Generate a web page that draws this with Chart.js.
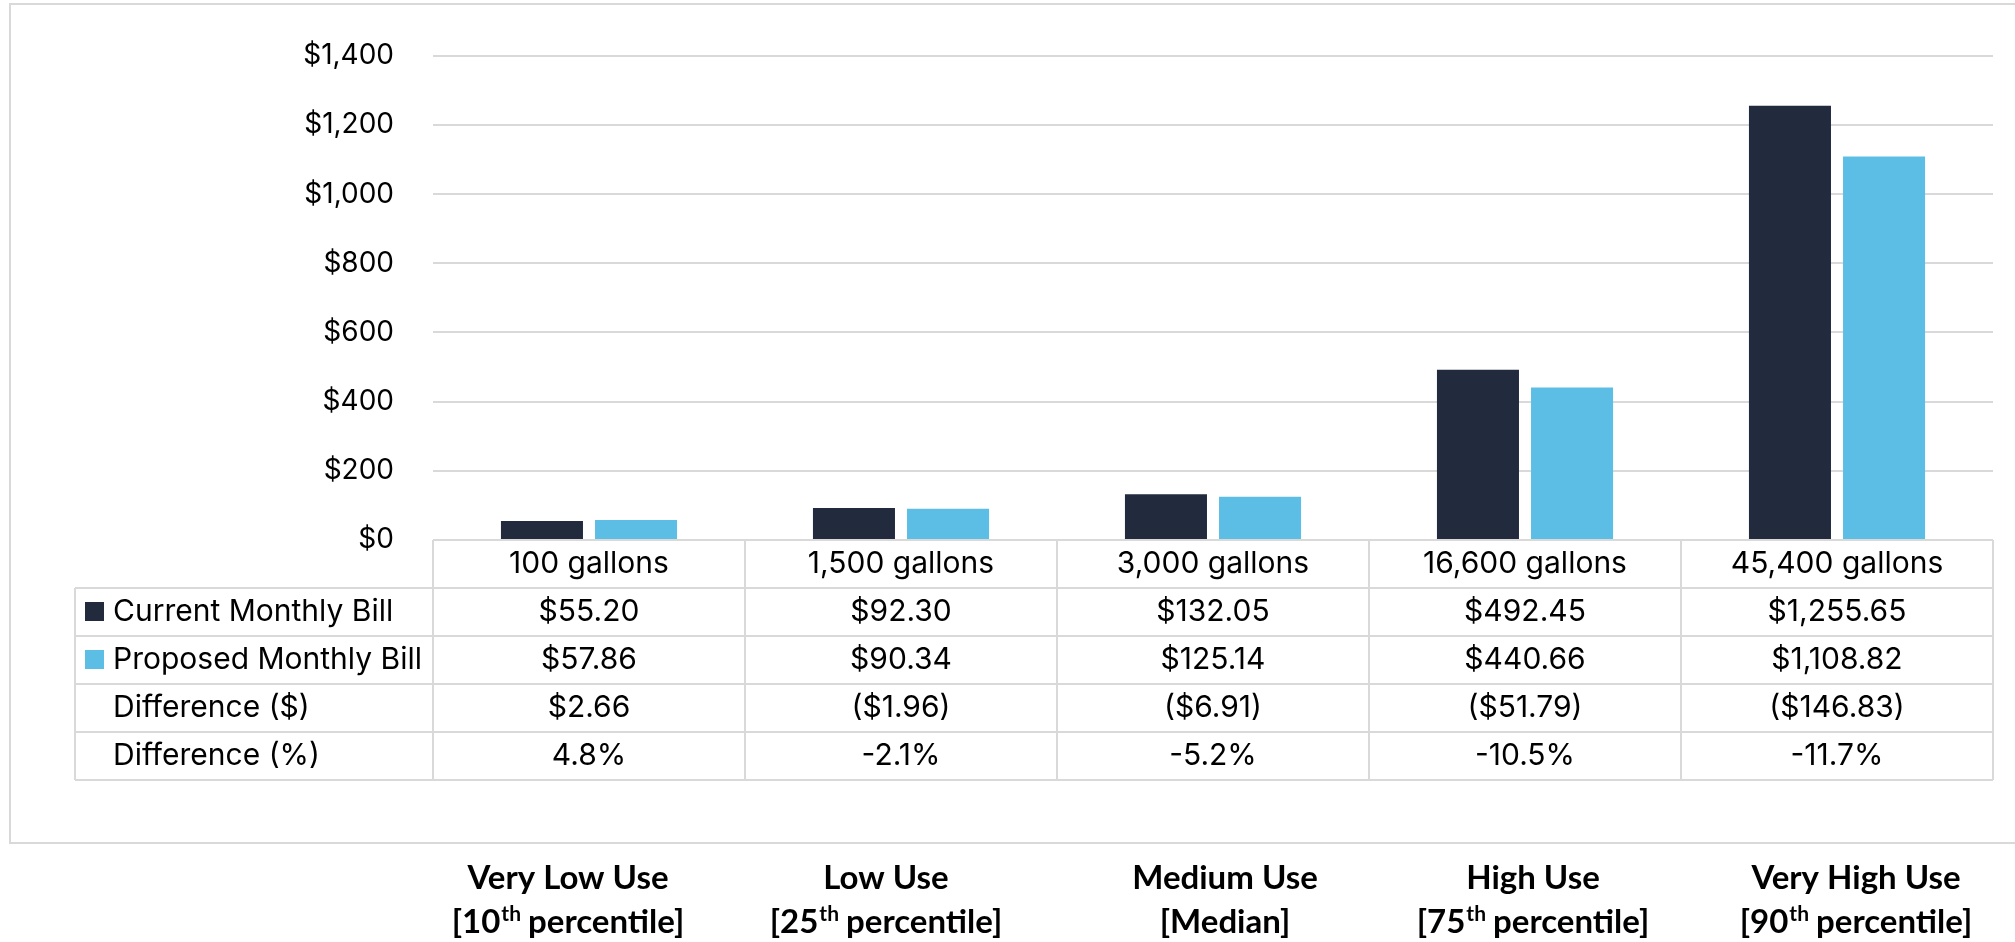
<!DOCTYPE html>
<html>
<head>
<meta charset="utf-8">
<script src="https://cdn.jsdelivr.net/npm/chart.js@4.4.1/dist/chart.umd.min.js"></script>
<style>
  html, body { margin: 0; padding: 0; background: #fff; }
  #wrap { width: 2015px; height: 942px; position: relative; }
</style>
</head>
<body>
<div id="wrap"><canvas id="billChart"></canvas></div>
<script>
const gallons = ['100 gallons', '1,500 gallons', '3,000 gallons', '16,600 gallons', '45,400 gallons'];
const useLevels = ['Very Low Use', 'Low Use', 'Medium Use', 'High Use', 'Very High Use'];
const percentiles = ['10', '25', 'Median', '75', '90'];
const currentBill = [55.20, 92.30, 132.05, 492.45, 1255.65];
const proposedBill = [57.86, 90.34, 125.14, 440.66, 1108.82];
const diffDollars = [2.66, -1.96, -6.91, -51.79, -146.83];
const diffPercent = [4.8, -2.1, -5.2, -10.5, -11.7];
const yTicks = [0, 200, 400, 600, 800, 1000, 1200, 1400];

const DARK = '#212B3D';
const LIGHT = '#5DBEE5';
const LINE = '#D9D9D9';
const FONT = 'Inter, "Open Sans", sans-serif';
// las etiquetas de uso no estan centradas exactamente en cada columna
const labelShift = [-21, -15, 12, 8, 19];

function money(v) {
    const s = '$' + Math.abs(v).toLocaleString('en-US', { minimumFractionDigits: 2, maximumFractionDigits: 2 });
    return v < 0 ? '(' + s + ')' : s;
}

function pct(v) {
    return v.toFixed(1) + '%';
}

// tabla de datos debajo del grafico + etiquetas de uso
const tablaPlugin = {
    id: 'tabla',
    beforeDraw(chart) {
        const ctx = chart.ctx;
        ctx.save();
        ctx.strokeStyle = LINE;
        ctx.lineWidth = 2;
        ctx.strokeRect(10, 4, 2060, 839);
        ctx.restore();
    },
    afterDraw(chart) {
        const { ctx, chartArea } = chart;
        const xs = chart.scales.x;
        const n = gallons.length;
        const colW = (chartArea.right - chartArea.left) / n;
        const top = chartArea.bottom;
        const headH = 48;
        const rowH = 48;
        const labelLeft = 75;

        const filas = [
            { label: 'Current Monthly Bill', color: DARK, values: currentBill.map(money) },
            { label: 'Proposed Monthly Bill', color: LIGHT, values: proposedBill.map(money) },
            { label: 'Difference ($)', color: null, values: diffDollars.map(money) },
            { label: 'Difference (%)', color: null, values: diffPercent.map(pct) }
        ];
        const bottom = top + headH + rowH * filas.length;

        ctx.save();
        ctx.strokeStyle = LINE;
        ctx.lineWidth = 2;
        ctx.beginPath();
        // lineas horizontales
        ctx.moveTo(chartArea.left, top);
        ctx.lineTo(chartArea.right, top);
        for (let r = 0; r <= filas.length; r++) {
            const y = top + headH + r * rowH;
            ctx.moveTo(labelLeft, y);
            ctx.lineTo(chartArea.right, y);
        }
        // lineas verticales
        ctx.moveTo(labelLeft, top + headH);
        ctx.lineTo(labelLeft, bottom);
        for (let i = 0; i <= n; i++) {
            const x = chartArea.left + i * colW;
            ctx.moveTo(x, top);
            ctx.lineTo(x, bottom);
        }
        ctx.stroke();

        ctx.fillStyle = '#000';
        ctx.font = '30px ' + FONT;
        ctx.textBaseline = 'middle';
        ctx.textAlign = 'center';
        gallons.forEach((g, i) => {
            ctx.fillText(g, xs.getPixelForValue(i), top + headH / 2);
        });

        filas.forEach((f, r) => {
            const yc = top + headH + r * rowH + rowH / 2;
            if (f.color) {
                ctx.fillStyle = f.color;
                ctx.fillRect(85, yc - 10, 19, 19);
            }
            ctx.fillStyle = '#000';
            ctx.textAlign = 'left';
            ctx.fillText(f.label, 113, yc);
            ctx.textAlign = 'center';
            f.values.forEach((v, i) => {
                ctx.fillText(v, xs.getPixelForValue(i), yc);
            });
        });

        // etiquetas de nivel de uso
        const big = 33;
        const small = 21;
        const y1 = 889;
        const y2 = 933;
        ctx.textBaseline = 'alphabetic';
        useLevels.forEach((u, i) => {
            const cx = xs.getPixelForValue(i) + labelShift[i];
            ctx.font = 'bold ' + big + 'px Lato, sans-serif';
            ctx.textAlign = 'center';
            ctx.fillText(u, cx, y1);

            const p = percentiles[i];
            if (isNaN(Number(p))) {
                ctx.fillText('[' + p + ']', cx, y2);
                return;
            }
            const a = '[' + p;
            const b = 'th';
            const c = ' percentile]';
            ctx.font = 'bold ' + big + 'px Lato, sans-serif';
            const wa = ctx.measureText(a).width;
            const wc = ctx.measureText(c).width;
            ctx.font = 'bold ' + small + 'px Lato, sans-serif';
            const wb = ctx.measureText(b).width;
            const x0 = cx - (wa + wb + wc) / 2;
            ctx.textAlign = 'left';
            ctx.font = 'bold ' + big + 'px Lato, sans-serif';
            ctx.fillText(a, x0, y2);
            ctx.font = 'bold ' + small + 'px Lato, sans-serif';
            ctx.fillText(b, x0 + wa + 1, y2 - 12);
            ctx.font = 'bold ' + big + 'px Lato, sans-serif';
            ctx.fillText(c, x0 + wa + wb, y2);
        });
        ctx.restore();
    }
};

const config = {
    type: 'bar',
    data: {
        labels: gallons,
        datasets: [
            {
                label: 'Current Monthly Bill',
                data: currentBill,
                backgroundColor: DARK,
                categoryPercentage: 0.603,
                barPercentage: 0.872
            },
            {
                label: 'Proposed Monthly Bill',
                data: proposedBill,
                backgroundColor: LIGHT,
                categoryPercentage: 0.603,
                barPercentage: 0.872
            }
        ]
    },
    options: {
        responsive: true,
        maintainAspectRatio: false,
        animation: false,
        devicePixelRatio: 1,
        layout: { padding: { top: 52, right: 22, bottom: 402, left: 0 } },
        plugins: {
            legend: { display: false },
            tooltip: { enabled: false }
        },
        scales: {
            x: { display: false },
            y: {
                min: 0,
                max: 1400,
                afterBuildTicks: (scale) => { scale.ticks = yTicks.map(v => ({ value: v })); },
                afterFit: (scale) => { scale.width = 433; },
                border: { display: false },
                grid: { color: LINE, lineWidth: 2, drawTicks: false },
                ticks: {
                    padding: 39,
                    color: '#000',
                    font: { family: FONT, size: 28 },
                    callback: (v) => '$' + Number(v).toLocaleString('en-US')
                }
            }
        }
    },
    plugins: [tablaPlugin]
};

new Chart(document.getElementById('billChart'), config);
</script>
</body>
</html>
